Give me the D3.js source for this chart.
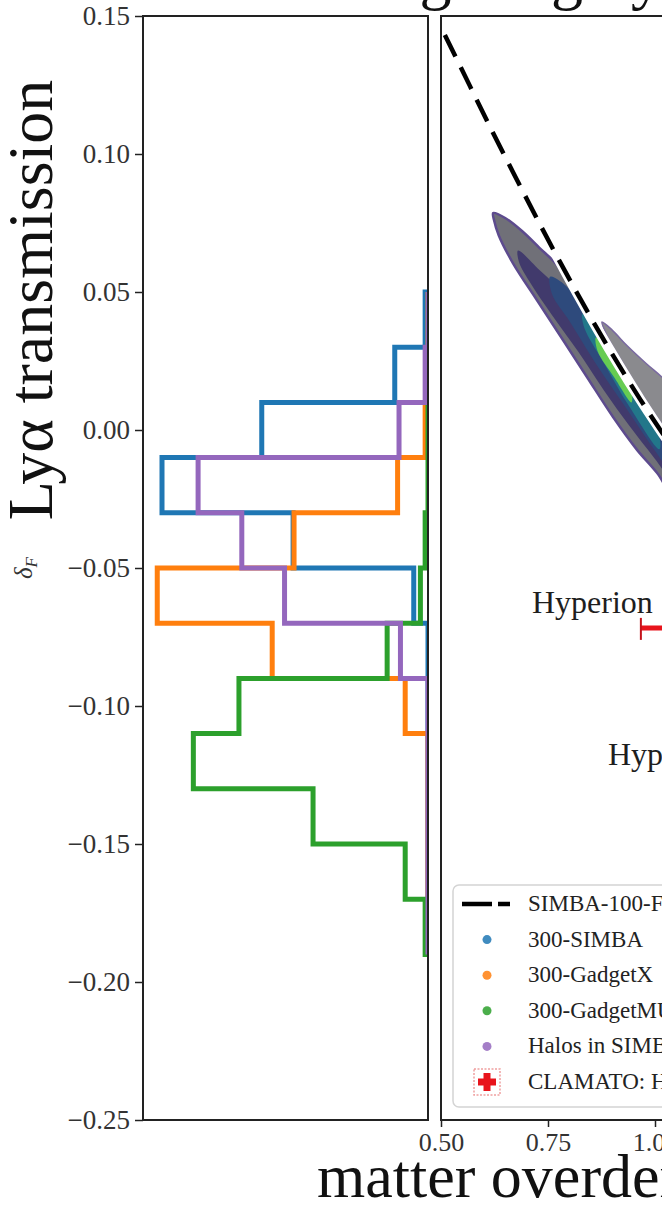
<!DOCTYPE html>
<html lang="en">
<head>
<meta charset="UTF-8">
<title>Lya transmission vs matter overdensity</title>
<script src="https://d3js.org/d3.v7.min.js"></script>
<style>
  body { margin: 0; background: #fff; }
  svg text { font-family: "Liberation Serif", "DejaVu Serif", serif; }
</style>
</head>
<body>
<div id="chart"></div>
<script>
// histogram bin edges (delta_F), shared by all four samples
const binEdges = [-0.19, -0.17, -0.15, -0.13, -0.11, -0.09, -0.07, -0.05, -0.03, -0.01, 0.01, 0.03, 0.05];
// counts per bin, from the bottom bin upwards
const histSimba300   = [0, 0, 0, 0, 0, 0, 1.5, 14.2, 28.0, 17.5, 3.5, 0.3];
const histGadgetX    = [0, 0, 0, 0, 2.4, 16.4, 28.5, 14.1, 3.2, 0.3, 0, 0];
const histGadgetMus  = [0.3, 2.4, 12.1, 24.7, 19.9, 4.3, 0.8, 0.3, 0, 0, 0, 0];
const histHalosSimba = [0, 0, 0, 0, 0, 2.9, 15.1, 19.6, 24.2, 3.05, 0.3, 0];

// SIMBA-100 fit (dashed line)
const fitX = [0.509, 0.568, 0.614, 0.668, 0.762, 0.864, 0.965, 1.016, 1.08];
const fitY = [0.1431, 0.1245, 0.1100, 0.0935, 0.0655, 0.0370, 0.0112, -0.0008, -0.0155];

// density contours of the halos sample, outer level first
const contourLevel0 = [[0.622, 0.0786], [0.650, 0.0768], [0.690, 0.0720], [0.730, 0.0660], [0.770, 0.0600], [0.800, 0.0525],
  [0.864, 0.0355], [0.965, 0.0100], [1.016, -0.0020], [1.080, -0.0170], [1.100, -0.0250], [1.070, -0.0300],
  [1.005, -0.0156], [0.958, -0.0072], [0.902, 0.0047], [0.841, 0.0192], [0.785, 0.0326], [0.724, 0.0471],
  [0.668, 0.0605], [0.635, 0.0705], [0.624, 0.0760]];
const contourLevel1 = [[0.680, 0.0650], [0.730, 0.0580], [0.790, 0.0490], [0.850, 0.0360], [0.940, 0.0140], [1.020, -0.0045],
  [1.080, -0.0190], [1.080, -0.0265], [1.000, -0.0105], [0.940, 0.0015], [0.880, 0.0145], [0.820, 0.0285],
  [0.760, 0.0415], [0.710, 0.0530], [0.682, 0.0610]];
const contourLevel2 = [[0.755, 0.0555], [0.800, 0.0510], [0.860, 0.0350], [0.930, 0.0170], [1.000, 0.0000], [1.080, -0.0180],
  [1.080, -0.0240], [1.000, -0.0075], [0.930, 0.0085], [0.860, 0.0245], [0.800, 0.0395], [0.760, 0.0490]];
const contourLevel3 = [[0.830, 0.0420], [0.880, 0.0305], [0.940, 0.0150], [1.010, -0.0025],
  [1.010, -0.0070], [0.940, 0.0085], [0.880, 0.0245], [0.835, 0.0370]];
const contourLevel4 = [[0.862, 0.0335], [0.905, 0.0245], [0.945, 0.0140], [0.945, 0.0100], [0.905, 0.0190], [0.866, 0.0285]];
// second (offset) contour above the fit
const contourUpper = [[0.876, 0.0391], [0.900, 0.0362], [0.935, 0.0305], [0.980, 0.0240], [1.016, 0.0192], [1.080, 0.0100],
  [1.100, 0.0000], [1.080, -0.0120], [1.016, 0.0020], [0.965, 0.0140], [0.920, 0.0255], [0.890, 0.0335]];

// CLAMATO Hyperion point
const clamatoX = [1.06];
const clamatoY = [-0.0717];
const clamatoXerr = [0.093];

const labelText = ["Hyperion", "Hyperion"];
const labelX = [0.7126, 0.890];
const labelY = [-0.0663, -0.1214];

const yTicks = [0.15, 0.10, 0.05, 0.00, -0.05, -0.10, -0.15, -0.20, -0.25];
const xTicks = [0.50, 0.75, 1.00];

const legendLabels = ["SIMBA-100-FGPA fit", "300-SIMBA", "300-GadgetX", "300-GadgetMUSIC", "Halos in SIMBA-100", "CLAMATO: Hyperion"];
const legendColors = ["#000", "#1f77b4", "#ff7f0e", "#2ca02c", "#9467bd", "#e8141c"];

// layout
const W = 662, H = 1210;
const plotTop = 16, plotBottom = 1120;
const histLeft = 143, histRight = 428;
const mainLeft = 441;

const svg = d3.select("#chart").append("svg")
  .attr("width", W).attr("height", H)
  .style("background", "#fff");

const defs = svg.append("defs");
defs.append("clipPath").attr("id", "clipHist")
  .append("rect").attr("x", histLeft).attr("y", plotTop).attr("width", histRight - histLeft).attr("height", plotBottom - plotTop);
defs.append("clipPath").attr("id", "clipMain")
  .append("rect").attr("x", mainLeft).attr("y", plotTop).attr("width", W - mainLeft).attr("height", plotBottom - plotTop);

// scales
const y = d3.scaleLinear().domain([-0.25, 0.15]).range([plotBottom, plotTop]);
const hx = d3.scaleLinear().domain([0, 30]).range([histRight, histLeft]);
const x = d3.scaleLinear().domain([0.5, 1.0]).range([mainLeft, mainLeft + 214]);

// ---- left panel: horizontal step histograms ----
function stepOutline(counts) {
  const pts = [[0, binEdges[0]]];
  counts.forEach((c, i) => {
    pts.push([c, binEdges[i]]);
    pts.push([c, binEdges[i + 1]]);
  });
  pts.push([0, binEdges[binEdges.length - 1]]);
  return pts;
}
const histLine = d3.line().x(d => hx(d[0])).y(d => y(d[1]));
const histG = svg.append("g").attr("clip-path", "url(#clipHist)");
[[histSimba300, "#1f77b4"], [histGadgetX, "#ff7f0e"], [histGadgetMus, "#2ca02c"], [histHalosSimba, "#9467bd"]]
  .forEach(([counts, col]) => {
    histG.append("path")
      .attr("d", histLine(stepOutline(counts)))
      .attr("fill", "none")
      .attr("stroke", col)
      .attr("stroke-width", 5)
      .attr("stroke-linejoin", "miter");
  });

// ---- right panel ----
const mainG = svg.append("g").attr("clip-path", "url(#clipMain)");
const contourLine = d3.line().x(d => x(d[0])).y(d => y(d[1])).curve(d3.curveCatmullRomClosed);

mainG.append("path").attr("d", contourLine(contourUpper))
  .attr("fill", "#8a8a8e").attr("stroke", "#7a6aa0").attr("stroke-width", 1.5);
mainG.append("path").attr("d", contourLine(contourLevel0))
  .attr("fill", "#707078").attr("stroke", "#5d4b8e").attr("stroke-width", 2.5);
mainG.append("path").attr("d", contourLine(contourLevel1)).attr("fill", "#413a6c");
mainG.append("path").attr("d", contourLine(contourLevel2)).attr("fill", "#2e4a7c");
mainG.append("path").attr("d", contourLine(contourLevel3)).attr("fill", "#22778a");
mainG.append("path").attr("d", contourLine(contourLevel4)).attr("fill", "#66cc52");

// dashed SIMBA-100 fit, with white underlay
const fitLine = d3.line().x(d => x(d[0])).y(d => y(d[1])).curve(d3.curveMonotoneX);
const fitPts = fitX.map((v, i) => [v, fitY[i]]);
mainG.append("path").attr("d", fitLine(fitPts))
  .attr("fill", "none").attr("stroke", "#fff").attr("stroke-width", 10);
mainG.append("path").attr("d", fitLine(fitPts))
  .attr("fill", "none").attr("stroke", "#000").attr("stroke-width", 4.5)
  .attr("stroke-dasharray", "24,12");

// labels
labelText.forEach((t, i) => {
  mainG.append("text")
    .attr("x", x(labelX[i])).attr("y", y(labelY[i]))
    .attr("font-size", 32).attr("fill", "#1e1e1e")
    .text(t);
});

// CLAMATO error bar
clamatoX.forEach((cx, i) => {
  const x0 = x(cx - clamatoXerr[i]), x1 = x(cx + clamatoXerr[i]), cy = y(clamatoY[i]);
  mainG.append("line").attr("x1", x0).attr("x2", x1).attr("y1", cy).attr("y2", cy)
    .attr("stroke", "#e8141c").attr("stroke-width", 5);
  mainG.append("line").attr("x1", x0).attr("x2", x0).attr("y1", cy - 10).attr("y2", cy + 12)
    .attr("stroke", "#c4121a").attr("stroke-width", 2);
});

// legend
const legG = mainG.append("g");
legG.append("rect")
  .attr("x", 453).attr("y", 885).attr("width", 300).attr("height", 222).attr("rx", 6)
  .attr("fill", "#fff").attr("fill-opacity", 0.85)
  .attr("stroke", "#d4d4d4").attr("stroke-width", 1.5);
legendLabels.forEach((lab, i) => {
  const ry = 904 + i * 35.6;
  if (i === 0) {
    legG.append("line").attr("x1", 462).attr("x2", 510).attr("y1", ry).attr("y2", ry)
      .attr("stroke", "#000").attr("stroke-width", 4.5).attr("stroke-dasharray", "30,6");
  } else if (i === legendLabels.length - 1) {
    legG.append("rect").attr("x", 474).attr("y", ry - 13).attr("width", 26).attr("height", 26)
      .attr("fill", "none").attr("stroke", "#f0a0a0").attr("stroke-width", 1.5).attr("stroke-dasharray", "2,1.5");
    legG.append("line").attr("x1", 478).attr("x2", 496).attr("y1", ry).attr("y2", ry)
      .attr("stroke", legendColors[i]).attr("stroke-width", 7);
    legG.append("line").attr("x1", 487).attr("x2", 487).attr("y1", ry - 9).attr("y2", ry + 9)
      .attr("stroke", legendColors[i]).attr("stroke-width", 7);
  } else {
    legG.append("circle").attr("cx", 487).attr("cy", ry).attr("r", 4.5)
      .attr("fill", legendColors[i]).attr("fill-opacity", 0.85);
  }
  legG.append("text").attr("x", 528).attr("y", ry + 7)
    .attr("font-size", 23).attr("fill", "#222").text(lab);
});

// ---- axes ----
const fmt = d3.format(".2f");
const yAxis = svg.append("g")
  .attr("transform", `translate(${histLeft},0)`)
  .call(d3.axisLeft(y).tickValues(yTicks).tickSize(8).tickPadding(5).tickFormat(fmt));
yAxis.select(".domain").remove();
yAxis.selectAll(".tick line").attr("stroke", "#222").attr("stroke-width", 1.5);
yAxis.selectAll(".tick text")
  .attr("font-family", "Liberation Serif, serif").attr("font-size", 27).attr("fill", "#333");

const xAxis = svg.append("g")
  .attr("transform", `translate(0,${plotBottom})`)
  .call(d3.axisBottom(x).tickValues(xTicks).tickSize(7).tickFormat(fmt));
xAxis.select(".domain").remove();
xAxis.selectAll(".tick line").attr("stroke", "#222").attr("stroke-width", 1.5);
xAxis.selectAll(".tick text")
  .attr("font-family", "Liberation Serif, serif").attr("font-size", 26).attr("fill", "#333")
  .attr("y", 31).attr("dy", 0);

// spines
svg.append("rect")
  .attr("x", histLeft).attr("y", plotTop)
  .attr("width", histRight - histLeft).attr("height", plotBottom - plotTop)
  .attr("fill", "none").attr("stroke", "#222").attr("stroke-width", 2);
svg.append("path")
  .attr("d", `M${W + 5},${plotTop}H${mainLeft}V${plotBottom}H${W + 5}`)
  .attr("fill", "none").attr("stroke", "#222").attr("stroke-width", 2);

// axis titles
svg.append("text")
  .attr("transform", "translate(52,300) rotate(-90)")
  .attr("text-anchor", "middle").attr("font-size", 64).attr("fill", "#111")
  .text("Lyα transmission");
const dLab = svg.append("text")
  .attr("transform", "translate(32,568) rotate(-90)")
  .attr("text-anchor", "middle").attr("font-size", 25).attr("fill", "#333")
  .attr("font-style", "italic");
dLab.append("tspan").text("δ");
dLab.append("tspan").attr("font-size", 17).attr("dy", 5).text("F");

svg.append("text")
  .attr("x", 317).attr("y", 1197)
  .attr("font-size", 62).attr("fill", "#111")
  .text("matter overdensity");

// figure title, mostly above the crop
svg.append("text")
  .attr("x", 318).attr("y", -3)
  .attr("font-size", 64).attr("fill", "#111")
  .text("Weighting by mass");
</script>
</body>
</html>
